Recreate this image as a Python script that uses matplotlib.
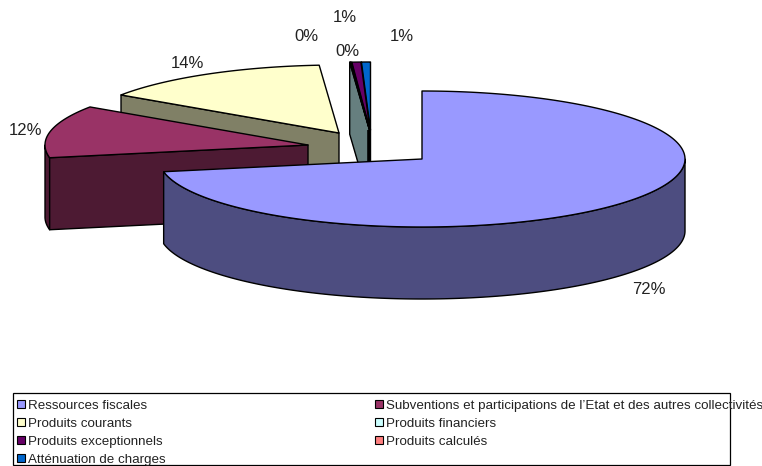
import numpy as np
import matplotlib
matplotlib.use("Agg")
import matplotlib.pyplot as plt
from matplotlib.patches import Polygon, Rectangle

# slices in clockwise order from 12 o'clock
slice_names = ["Ressources fiscales",
               "Subventions et participations de l’Etat et des autres collectivités",
               "Produits courants", "Produits financiers", "Produits calculés",
               "Produits exceptionnels", "Atténuation de charges"]
values = [72.0, 12.45, 14.35, 0.05, 0.05, 0.55, 0.55]

top_colors = ["#9999FF", "#993366", "#FFFFCC", "#CCFFFF", "#FF8080", "#660066", "#0066CC"]
side_colors = ["#4D4D80", "#4D1A33", "#808066", "#667F7F", "#804040", "#330033", "#003366"]
legend_colors = {n: c for n, c in zip(slice_names, top_colors)}

# layout in pixels
CX, CY, RX, RY, DEPTH = 422, 159, 263, 68, 72
offsets = [(0, 0), (-114, -14), (-83, -26), (-52.5, -29), (-52.5, -29), (-52, -29), (-51.5, -29)]
label_pos = [(649, 294), (26, 135), (187, 68), (306, 41), (347, 56), (345, 22), (402, 41)]

plt.rcParams["font.family"] = ["Liberation Sans", "DejaVu Sans"]
fig = plt.figure(figsize=(7.62, 4.66), dpi=100)
ax = fig.add_axes([0, 0, 1, 1])
ax.set_xlim(0, 762)
ax.set_ylim(466, 0)
ax.axis("off")
LW = 1.0


def ell(ax_, ay_, t):
    t = np.radians(t)
    return np.column_stack([ax_ + RX * np.sin(t), ay_ - RY * np.cos(t)])


def poly(pts, fc, z):
    ax.add_patch(Polygon(pts, closed=True, facecolor=fc, edgecolor="black", lw=LW,
                         joinstyle="round", zorder=z))


edges = np.concatenate([[0], np.cumsum(values)]) / np.sum(values) * 360
draw_order = [6, 5, 4, 3, 2, 1, 0]
for k, i in enumerate(draw_order):
    z = 2 + k
    a0, a1 = edges[i], edges[i + 1]
    ax_, ay_ = CX + offsets[i][0], CY + offsets[i][1]
    # outer wall on the front half of the ellipse
    w0, w1 = max(a0, 90), min(a1, 270)
    if w1 > w0:
        arc = ell(ax_, ay_, np.linspace(w0, w1, 160))
        poly(np.vstack([arc, (arc + [0, DEPTH])[::-1]]), side_colors[i], z)
    # visible cut face on the starting edge
    if i > 0:
        p = ell(ax_, ay_, np.array([a0]))[0]
        poly([(ax_, ay_), p, p + [0, DEPTH], (ax_, ay_ + DEPTH)], side_colors[i], z)
    # top surface
    arc = ell(ax_, ay_, np.linspace(a0, a1, 240))
    poly(np.vstack([[(ax_, ay_)], arc]), top_colors[i], z + 0.5)

# dark sliver where the thin slices pile up at their tip
ax.plot([CX + offsets[5][0] - 1.5] * 2, [CY + offsets[5][1], CY + offsets[5][1] + DEPTH],
        color="black", lw=2.6, zorder=6, solid_capstyle="butt")

for v, (x, y) in zip(values, label_pos):
    ax.text(x, y, f"{round(v + 1e-9):d}%", ha="center", va="baseline", fontsize=12,
            color="#222222", zorder=20)

# legend
ax.add_patch(Rectangle((12.5, 393), 717.5, 72, facecolor="white", edgecolor="black", lw=0.9, zorder=1))
rows = [404, 422, 440, 458]
legend_layout = [(0, 0), (1, 0), (0, 1), (1, 1), (0, 2), (1, 2), (0, 3)]
col_x = [17, 375]
legend_order = ["Ressources fiscales",
                "Subventions et participations de l’Etat et des autres collectivités",
                "Produits courants", "Produits financiers", "Produits exceptionnels",
                "Produits calculés", "Atténuation de charges"]
for name, (c, r) in zip(legend_order, legend_layout):
    x, y = col_x[c], rows[r]
    ax.add_patch(Rectangle((x, y - 4), 7.5, 7.5, facecolor=legend_colors[name], edgecolor="black",
                           lw=0.8, zorder=21))
    ax.text(x + 11, y + 5, name, ha="left", va="baseline", fontsize=9.68, color="#222222", zorder=21)

fig.savefig("out.png", dpi=100)
